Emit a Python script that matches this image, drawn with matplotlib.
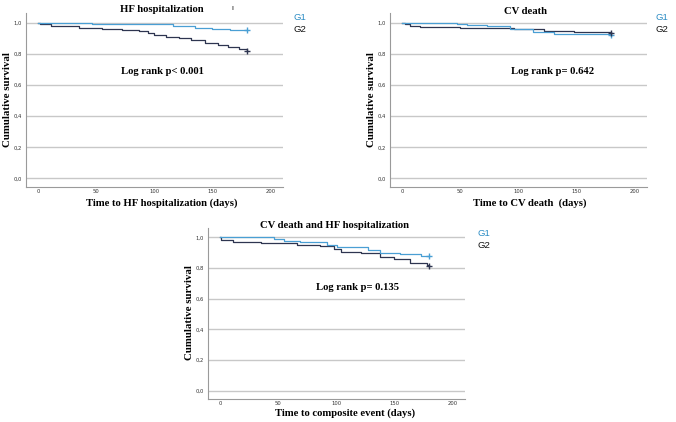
import matplotlib.pyplot as plt
import numpy as np

# Kaplan-Meier step data (time in days, survival)
hf_g1_t = [0, 46, 116, 135, 150, 165, 180]
hf_g1_s = [1.0, 0.992, 0.980, 0.964, 0.958, 0.952, 0.951]
hf_g2_t = [0, 1.5, 11, 35, 55, 72, 87, 95, 100, 110, 121, 132, 144, 155, 164, 173, 180]
hf_g2_s = [1.0, 0.989, 0.980, 0.968, 0.960, 0.953, 0.947, 0.932, 0.919, 0.910,
           0.900, 0.889, 0.872, 0.859, 0.842, 0.829, 0.820]

cv_g1_t = [0, 47, 56, 73, 93, 113, 131, 180]
cv_g1_s = [1.0, 0.993, 0.985, 0.978, 0.959, 0.942, 0.925, 0.922]
cv_g2_t = [0, 2, 7, 15, 50, 96, 122, 148, 165, 180]
cv_g2_s = [1.0, 0.991, 0.981, 0.974, 0.966, 0.957, 0.948, 0.942, 0.937, 0.935]

co_g1_t = [0, 46, 55, 69, 92, 101, 127, 138, 155, 173, 180]
co_g1_s = [1.0, 0.987, 0.976, 0.970, 0.954, 0.939, 0.917, 0.900, 0.889, 0.880, 0.878]
co_g2_t = [0, 1, 11, 35, 66, 86, 98, 104, 121, 138, 150, 164, 178, 180]
co_g2_s = [1.0, 0.983, 0.970, 0.961, 0.954, 0.943, 0.924, 0.907, 0.896, 0.874,
           0.857, 0.835, 0.820, 0.815]

titles = ["HF hospitalization", "CV death", "CV death and HF hospitalization"]
xlabels = ["Time to HF hospitalization (days)", "Time to CV death  (days)",
           "Time to composite event (days)"]
logrank = ["Log rank p< 0.001", "Log rank p= 0.642", "Log rank p= 0.135"]
groups = ["G1", "G2"]
yticks = [0.0, 0.2, 0.4, 0.6, 0.8, 1.0]
ytick_labels = ["0,0", "0,2", "0,4", "0,6", "0,8", "1,0"]
xticks = [0, 50, 100, 150, 200]

c_g1 = "#4a9fd4"
c_g2 = "#2e3550"
serif = "Liberation Serif"
W, H = 676, 422

fig = plt.figure(figsize=(6.76, 4.22), dpi=100)

def fx(px):
    return px / W

def fy(py):
    return 1 - py / H

# axes boxes in pixels: left, top, right, bottom
boxes = [(26, 13, 283, 187), (390, 13, 647, 187), (208, 228, 465, 399)]
data = [((hf_g1_t, hf_g1_s), (hf_g2_t, hf_g2_s)),
        ((cv_g1_t, cv_g1_s), (cv_g2_t, cv_g2_s)),
        ((co_g1_t, co_g1_s), (co_g2_t, co_g2_s))]
title_pos = [(162, 9), (526, 11), (335, 226)]
lr_pos = [(162, 71), (553, 71), (358, 287)]
leg_pos = [(293, 17), (655, 17), (477, 233)]
ylab_pos = [(8, 100), (372, 100), (190, 313)]
xlab_pos = [(162, 203), (530, 203), (345, 413)]

for i, (l, t, r, b) in enumerate(boxes):
    ax = fig.add_axes([fx(l), fy(b), fx(r - l), (b - t) / H])
    (t1, s1), (t2, s2) = data[i]
    ax.step(t2, s2, where="post", color=c_g2, lw=0.9)
    ax.step(t1, s1, where="post", color=c_g1, lw=0.9)
    ax.plot(t1[-1], s1[-1], marker="+", color=c_g1, ms=5, mew=1)
    ax.plot(t2[-1], s2[-1], marker="+", color=c_g2, ms=5, mew=1)
    ax.set_xlim(-10.6, 211)
    ax.set_ylim(-0.055, 1.062)
    ax.set_yticks(yticks)
    ax.set_yticklabels(ytick_labels, fontsize=3.8)
    ax.set_xticks(xticks)
    ax.set_xticklabels([str(v) for v in xticks], fontsize=3.8)
    ax.tick_params(axis="x", length=0, pad=1.5, colors="#333333")
    ax.tick_params(axis="y", length=0, pad=3, colors="#333333")
    ax.yaxis.grid(True, color="#c8c8c8", lw=1.0)
    ax.set_axisbelow(True)
    for s in ["top", "right"]:
        ax.spines[s].set_visible(False)
    for s in ["left", "bottom"]:
        ax.spines[s].set_color("#9a9a9a")
        ax.spines[s].set_linewidth(0.8)
    fig.text(fx(ylab_pos[i][0]), fy(ylab_pos[i][1]), "Cumulative survival",
             family=serif, fontweight="bold", fontsize=7.8, rotation=90,
             ha="center", va="center")
    fig.text(fx(xlab_pos[i][0]), fy(xlab_pos[i][1]), xlabels[i], family=serif,
             fontweight="bold", fontsize=7.7, ha="center", va="center")
    fig.text(fx(title_pos[i][0]), fy(title_pos[i][1]), titles[i], family=serif,
             fontweight="bold", fontsize=7.7, ha="center", va="center")
    fig.text(fx(lr_pos[i][0]), fy(lr_pos[i][1]), logrank[i], family=serif,
             fontweight="bold", fontsize=7.7, ha="center", va="center")
    lx, ly = leg_pos[i]
    fig.text(fx(lx), fy(ly), groups[0], family="Liberation Sans", fontsize=6.8,
             color="#2b8cc4", ha="left", va="center")
    fig.text(fx(lx), fy(ly + 13), groups[1], family="Liberation Sans",
             fontsize=6.8, color="#111111", ha="left", va="center")

fig.text(fx(232), fy(8), "ı", fontsize=5, ha="center", va="center")

fig.savefig("out.png", dpi=100)
